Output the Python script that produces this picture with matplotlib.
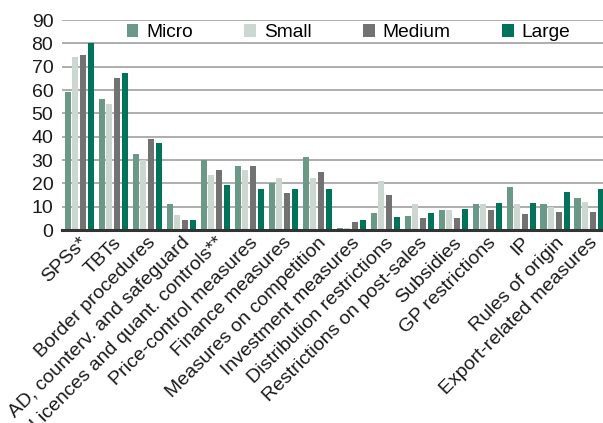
import matplotlib.pyplot as plt
import numpy as np

plt.rcParams['font.family'] = ['Liberation Sans', 'DejaVu Sans']

categories = ['SPSs*', 'TBTs', 'Border procedures', 'AD, counterv. and safeguard',
              'Licences and quant. controls**', 'Price-control measures',
              'Finance measures', 'Measures on competition', 'Investment measures',
              'Distribution restrictions', 'Restrictions on post-sales', 'Subsidies',
              'GP restrictions', 'IP', 'Rules of origin', 'Export-related measures']

micro = [59.3, 56.1, 32.4, 11.0, 29.9, 27.4, 20.0, 31.1, 0.9, 7.1, 6.0, 8.6, 11.1, 18.4, 11.1, 13.6]
small = [74.3, 53.9, 30.0, 6.4, 23.6, 25.7, 22.1, 22.1, 0.8, 21.1, 11.1, 8.6, 11.1, 11.1, 9.7, 12.1]
medium = [75.0, 65.0, 39.1, 4.3, 25.7, 27.4, 15.7, 24.9, 3.4, 15.0, 5.1, 5.1, 8.6, 6.9, 7.7, 7.7]
large = [80.0, 67.1, 37.1, 4.3, 19.3, 17.6, 17.6, 17.6, 4.3, 5.7, 7.1, 8.9, 11.7, 11.7, 16.1, 17.6]

series = [('Micro', micro, '#6a9a87'), ('Small', small, '#ccd7d1'),
          ('Medium', medium, '#727272'), ('Large', large, '#00735a')]

fig = plt.figure(figsize=(6.03, 4.23), dpi=100)
ax = fig.add_axes([61.7 / 603, 1 - 230 / 423, 1 - 61.7 / 603, 210 / 423])

x = np.arange(len(categories))
step = 0.226
width = 0.18
for k, (name, vals, col) in enumerate(series):
    ax.bar(x + (k - 1.5) * step, vals, width, color=col, label=name, zorder=3)

ax.set_ylim(0, 90)
ax.set_xlim(-0.515, 15.41)
ax.set_yticks(range(0, 91, 10))
ax.yaxis.grid(True, color='#a0a0a0', lw=1.2, zorder=0)
ax.set_axisbelow(True)
for s in ['left', 'right', 'top']:
    ax.spines[s].set_visible(False)
ax.spines['bottom'].set_color('#333333')
ax.spines['bottom'].set_linewidth(2.2)
ax.spines['bottom'].set_zorder(4)
ax.tick_params(axis='both', length=0, labelsize=14, colors='#1a1a1a')
ax.tick_params(axis='y', pad=6)
ax.set_xticks(x)
ax.set_xticklabels(categories, rotation=45, ha='right', va='top',
                   rotation_mode='anchor')
ax.tick_params(axis='x', pad=3)

leg = ax.legend(ncol=4, loc='center', bbox_to_anchor=(0.53, 84.5 / 90), frameon=False,
                fontsize=13.8, handlelength=0.62, handleheight=0.62,
                handletextpad=0.4, columnspacing=2.69, borderaxespad=0)

fig.savefig('out.png', dpi=100)
